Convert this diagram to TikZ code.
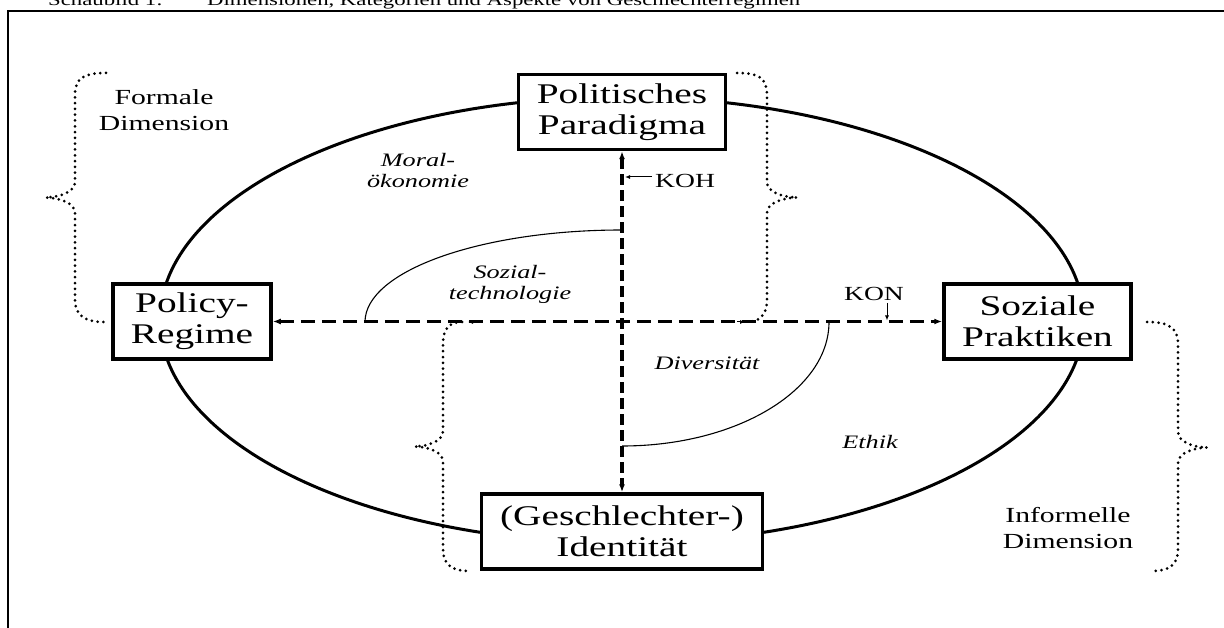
\documentclass[tikz,border=0pt]{standalone}
\usepackage{fontspec}
\setmainfont{Liberation Serif}[FakeStretch=1.38]
\usetikzlibrary{arrows.meta}
\newcommand\myboxfont{\fontsize{28.5}{31}\selectfont}
\newcommand\mydimfont{\fontsize{21.5}{26}\selectfont}
\newcommand\myitfont{\fontsize{19}{21}\selectfont\itshape}
\newcommand\mykfont{\fontsize{20}{22}\selectfont}
\newcommand\mytitfont{\fontsize{16.5}{18}\selectfont}
\tikzset{
  box/.style={draw, line width=3.5pt, fill=white, inner sep=0pt, align=center, font=\myboxfont},
  ell/.style={line width=3pt},
  hdash/.style={line width=2.7pt, dash pattern=on 14pt off 7pt},
  vdash/.style={line width=3.6pt, dash pattern=on 11pt off 5pt},
  dotbrace/.style={line width=3pt, dash pattern=on 0pt off 5.8pt, line cap=round},
  thinarc/.style={line width=1.1pt},
  dimlab/.style={align=center, font=\mydimfont, inner sep=0pt},
  itlab/.style={align=center, font=\myitfont, inner sep=0pt},
  klab/.style={font=\mykfont, inner sep=0pt},
  titlab/.style={font=\mytitfont, anchor=base west, inner sep=0pt},
  bigtip/.tip={Latex[length=8pt,width=6pt]},
  smalltip/.tip={Latex[length=5pt,width=4pt]},
}
\begin{document}
\begin{tikzpicture}[x=1pt,y=-1pt]
\useasboundingbox (0,0) rectangle (1224,628);
\clip (0,0) rectangle (1224,628);
\fill[white] (0,0) rectangle (1224,628);
% title (cut off at the top)
\node[titlab] (t1) at (48,6) {Schaubild 1:};
\node[titlab] (t2) at (207,6) {Dimensionen, Kategorien und Aspekte von Geschlechterregimen};
% frame
\draw[line width=2.5pt] (8,660) -- (8,11) -- (1260,11);
% ellipse
\draw[ell] (622,320) ellipse [x radius=462, y radius=223];
% arcs
\draw[thinarc] (365,322) arc[start angle=180, end angle=270, x radius=257, y radius=92];
\draw[thinarc] (829,322) arc[start angle=0, end angle=90, x radius=207, y radius=124];
% boxes
\node[box, minimum width=207pt, minimum height=75pt] (pp) at (622,112) {Politisches\\Paradigma};
\node[box, minimum width=158pt, minimum height=75pt] (pr) at (192,321.5) {Policy-\\Regime};
\node[box, minimum width=187pt, minimum height=75pt] (sp) at (1037.5,321.5) {Soziale\\Praktiken};
\node[box, minimum width=281pt, minimum height=75pt] (gi) at (622,531.5) {(Geschlechter-)\\Identität};
% dashed connectors
\draw[hdash, bigtip-bigtip] (pr) -- (sp);
\draw[vdash, bigtip-bigtip] (pp) -- (gi);
% braces
\draw[dotbrace] (106,73) .. controls (84,73) and (75,78) .. (75,95) -- (75,182) .. controls (75,192) and (60,197) .. (46,197.5) .. controls (60,198) and (75,203) .. (75,213) -- (75,300) .. controls (75,316) and (86,322) .. (104,322);
\draw[dotbrace] (737,73) .. controls (759,73) and (767,78) .. (767,95) -- (767,182) .. controls (767,192) and (782,197) .. (797,197.5) .. controls (782,198) and (767,203) .. (767,213) -- (767,300) .. controls (767,316) and (758,322) .. (747,322);
\draw[dotbrace] (462,322) .. controls (450,322) and (443,328) .. (443,344) -- (443,431) .. controls (443,441) and (429,446) .. (415,446.5) .. controls (429,447) and (443,452) .. (443,462) -- (443,549) .. controls (443,565) and (452,571) .. (470,571);
\draw[dotbrace] (1147,322) .. controls (1169,322) and (1178,328) .. (1178,344) -- (1178,432) .. controls (1178,442) and (1193,447) .. (1207,447.5) .. controls (1193,448) and (1178,453) .. (1178,463) -- (1178,549) .. controls (1178,565) and (1169,571) .. (1152,571);
% small tips at the brace ends
\coordinate (ta) at (737,322);
\coordinate (tb) at (745,322);
\coordinate (tc) at (476,322);
\coordinate (td) at (468,322);
\draw[line width=1pt, -smalltip] (ta) -- (tb);
\draw[line width=1pt, -smalltip] (tc) -- (td);
% KOH / KON
\node[klab, anchor=base west] (koh) at (655,188) {KOH};
\coordinate (kohs) at (652,177);
\coordinate (kohv) at (625,177);
\draw[line width=1pt, -smalltip] (kohs) -- (kohv);
\node[klab, anchor=base] (kon) at (874,301) {KON};
\coordinate (kons) at (887,303);
\coordinate (konv) at (887,320.5);
\draw[line width=1pt, -smalltip] (kons) -- (konv);
% labels
\node[dimlab] (fd) at (164,110) {Formale\\Dimension};
\node[dimlab] (id) at (1068,528) {Informelle\\Dimension};
\node[itlab] (mo) at (418,171) {Moral-\\ökonomie};
\node[itlab] (st) at (510,284) {Sozial-\\technologie};
\node[itlab, anchor=base] (dv) at (707,370) {Diversität};
\node[itlab, anchor=base] (et) at (870,448) {Ethik};
\end{tikzpicture}
\end{document}
